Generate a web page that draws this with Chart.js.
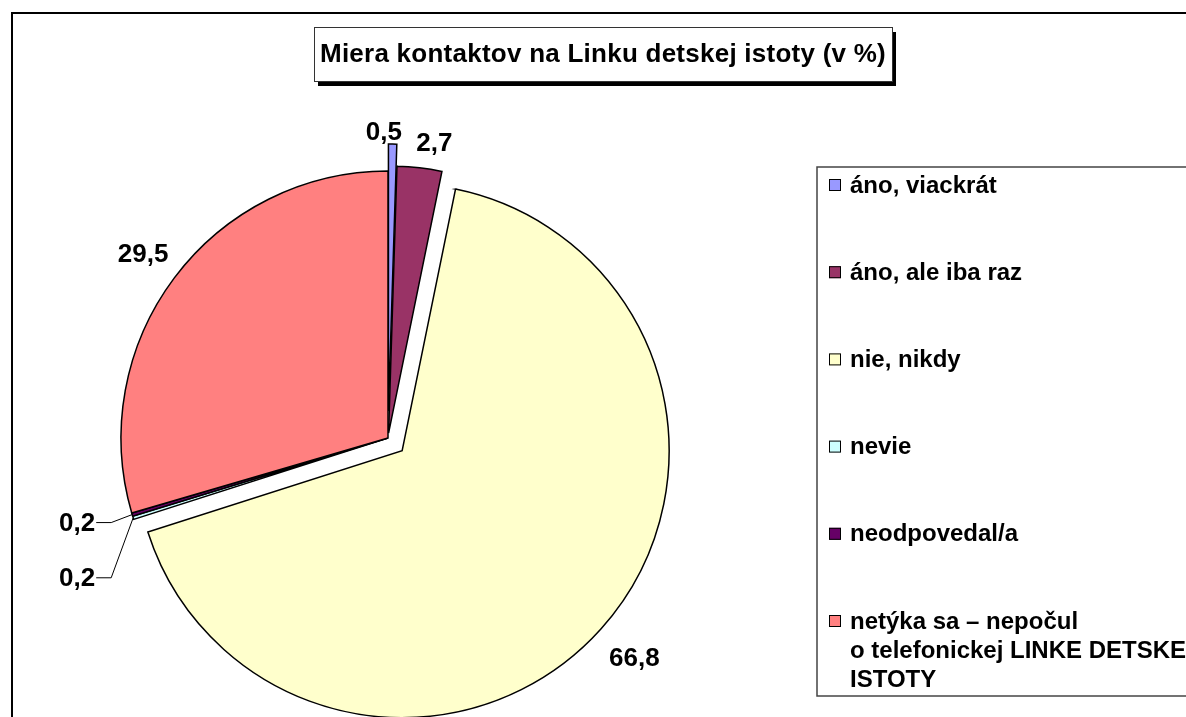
<!DOCTYPE html>
<html>
<head>
<meta charset="utf-8">
<script src="https://cdn.jsdelivr.net/npm/chart.js@4.4.1/dist/chart.umd.min.js"></script>
<style>
  html, body { margin: 0; padding: 0; background: #fff; }
  #wrap { position: relative; width: 1186px; height: 717px; }
</style>
</head>
<body>
<div id="wrap"><canvas id="pieChart"></canvas></div>
<script>
const chartTitle = 'Miera kontaktov na Linku detskej istoty (v %)';
const categories = [
    'áno, viackrát',
    'áno, ale iba raz',
    'nie, nikdy',
    'nevie',
    'neodpovedal/a',
    ['netýka sa – nepočul', 'o telefonickej LINKE DETSKEJ', 'ISTOTY']
];
const percentValues = [0.5, 2.7, 66.8, 0.2, 0.2, 29.5];
const sliceColors = ['#9999FF', '#993366', '#FFFFCC', '#CCFFFF', '#660066', '#FF8080'];

// how far each slice is pulled out of the pie, in px
const explodePx = [27, 5, 19, 0, 0, 0];
// value label placement: distance from slice centre, or a leader line
const labelPlacement = [
    {dist: 278, dx: -9, dy: 0},
    {dist: 291, dx: 12, dy: 0},
    {dist: 312, dx: 0, dy: 0},
    {leader: true, dx: -22, dy: 60},
    {leader: true, dx: -21, dy: 8},
    {dist: 306, dx: 0, dy: 0}
];

const fontFamily = '"Liberation Sans", Arial, sans-serif';

function fmt(v) {
    return v.toFixed(1).replace('.', ',');
}

// pull slices out by moving their centre (Chart.js offset also shrinks thin slices)
const explode = {
    id: 'explode',
    beforeDatasetsDraw(chart) {
        const meta = chart.getDatasetMeta(0);
        const area = chart.chartArea;
        const cx = (area.left + area.right) / 2 + meta.controller.offsetX;
        const cy = (area.top + area.bottom) / 2 + meta.controller.offsetY;
        meta.data.forEach((arc, i) => {
            const mid = (arc.startAngle + arc.endAngle) / 2;
            arc.x = cx + Math.cos(mid) * explodePx[i];
            arc.y = cy + Math.sin(mid) * explodePx[i];
        });
    }
};

const decorations = {
    id: 'decorations',
    beforeDraw(chart) {
        const ctx = chart.ctx;
        ctx.save();
        ctx.fillStyle = '#fff';
        ctx.fillRect(0, 0, chart.width, chart.height);
        // outer frame
        ctx.lineWidth = 2;
        ctx.strokeStyle = '#000';
        ctx.strokeRect(12, 13, 1400, 1000);
        // title box with shadow
        ctx.fillStyle = '#000';
        ctx.fillRect(318, 32, 578, 54);
        ctx.fillStyle = '#fff';
        ctx.fillRect(314, 27, 578, 54);
        ctx.lineWidth = 1;
        ctx.strokeStyle = '#333';
        ctx.strokeRect(314.5, 27.5, 578, 54);
        ctx.fillStyle = '#000';
        ctx.font = 'bold 26px ' + fontFamily;
        ctx.letterSpacing = '0.25px';
        ctx.textAlign = 'center';
        ctx.textBaseline = 'middle';
        ctx.fillText(chartTitle, 603, 55);
        ctx.restore();
    },
    afterDatasetsDraw(chart) {
        const ctx = chart.ctx;
        const meta = chart.getDatasetMeta(0);
        const r = meta.controller.outerRadius;
        ctx.save();
        ctx.font = 'bold 26px ' + fontFamily;
        ctx.fillStyle = '#000';
        ctx.strokeStyle = '#000';
        ctx.lineWidth = 1;
        ctx.textBaseline = 'middle';
        meta.data.forEach((arc, i) => {
            const mid = (arc.startAngle + arc.endAngle) / 2;
            const p = labelPlacement[i];
            const text = fmt(percentValues[i]);
            if (p.leader) {
                const rx = arc.x + Math.cos(mid) * r;
                const ry = arc.y + Math.sin(mid) * r;
                const ex = rx + p.dx;
                const ey = ry + p.dy;
                ctx.beginPath();
                ctx.moveTo(rx, ry);
                ctx.lineTo(ex, ey);
                ctx.lineTo(ex - 15, ey);
                ctx.stroke();
                ctx.textAlign = 'right';
                ctx.fillText(text, ex - 16, ey + 1);
            } else {
                ctx.textAlign = 'center';
                ctx.fillText(text, arc.x + Math.cos(mid) * p.dist + p.dx, arc.y + Math.sin(mid) * p.dist + p.dy);
            }
        });
        ctx.restore();
    },
    afterDraw(chart) {
        const ctx = chart.ctx;
        ctx.save();
        // legend box
        ctx.lineWidth = 1.5;
        ctx.strokeStyle = '#444';
        ctx.strokeRect(817, 167, 500, 529);
        ctx.font = 'bold 24px ' + fontFamily;
        ctx.textAlign = 'left';
        ctx.textBaseline = 'middle';
        categories.forEach((label, i) => {
            const y = 185 + i * 87.2;
            ctx.fillStyle = sliceColors[i];
            ctx.fillRect(829, y - 6, 12, 12);
            ctx.lineWidth = 1;
            ctx.strokeStyle = '#000';
            ctx.strokeRect(829.5, y - 5.5, 11, 11);
            ctx.fillStyle = '#000';
            const lines = Array.isArray(label) ? label : [label];
            lines.forEach((line, j) => {
                ctx.fillText(line, 850, y + 1 + j * 29);
            });
        });
        ctx.restore();
    }
};

const ctx = document.getElementById('pieChart').getContext('2d');
new Chart(ctx, {
    type: 'pie',
    data: {
        labels: categories,
        datasets: [{
            data: percentValues,
            backgroundColor: sliceColors,
            borderColor: '#000',
            borderWidth: 1.5,
            borderJoinStyle: 'miter',
            hoverOffset: 0,
            radius: 267
        }]
    },
    options: {
        responsive: true,
        maintainAspectRatio: false,
        animation: false,
        events: [],
        layout: {
            padding: {left: 100, right: 510, top: 170, bottom: 11}
        },
        plugins: {
            legend: {display: false},
            title: {display: false},
            tooltip: {enabled: false}
        }
    },
    plugins: [explode, decorations]
});
</script>
</body>
</html>
